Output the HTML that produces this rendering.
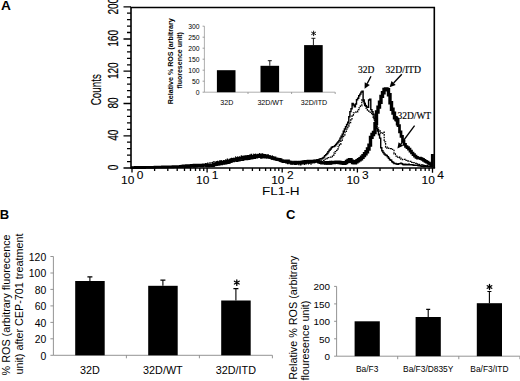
<!DOCTYPE html>
<html><head><meta charset="utf-8"><style>
html,body{margin:0;padding:0;background:#fff;}
svg{display:block;}
</style></head><body>
<svg width="520" height="381" viewBox="0 0 520 381">
<rect width="520" height="381" fill="#fff"/>
<path d="M205.0,163.7H206.4V163.2H207.8V163.3H209.2V162.9H210.6V162.9H212.0V162.6H213.4V161.8H214.8V161.6H216.2V162.2H217.6V161.3H219.0V161.0H220.4V161.5H221.8V160.7H223.2V160.7H224.6V160.1H226.0V159.9H227.4V159.1H228.8V159.3H230.2V159.2H231.6V158.5H233.0V158.4H234.4V157.9H235.8V157.0H237.2V157.5H238.6V157.0H240.0V156.5H241.4V156.0H242.8V156.5H244.2V155.9H245.6V155.8H247.0V155.7H248.4V155.3H249.8V155.2H251.2V154.4H252.6V154.6H254.0V154.1H255.4V154.5H256.8V154.3H258.2V153.6H259.6V153.8H261.0V154.0H262.4V154.9H263.8V154.5H265.2V154.9H266.6V154.9H268.0V155.5H269.4V155.7H270.8V155.9H272.2V156.8H273.6V157.5H275.0V158.6H276.4V159.1H277.8V160.1H279.2V160.8H280.6V161.4H282.0V161.5H283.4V161.4H284.8V162.6H286.2V163.1H287.6V163.5H289.0V163.6H290.4V163.9H291.8V163.5H293.2V164.2H294.6V164.1H296.0V163.9H297.4V163.8H298.8V164.7H300.2V164.8H301.6V163.8H303.0V164.4H304.4V163.9H305.8V163.5H307.2V163.6H308.6V163.9H310.0V163.8H311.4V162.5H312.8V162.7H314.2V161.7H315.6V162.0H317.0V161.2H318.4V161.3H319.8V161.0H321.2V160.1H322.6V160.3H324.0V159.2H325.4V158.5H326.8V158.7H328.2V157.6H329.6V157.1H331.0V156.5H332.4V155.3H333.8V153.2H335.2V151.6H336.6V150.3H338.0V146.8H339.4V144.3H340.8V141.3H342.2V137.8H343.6V134.9H345.0V132.1H346.4V129.1H347.8V125.8H349.2V123.4H350.6V120.0H352.0V116.0H353.4V112.8H354.8V112.2H356.2V112.0H357.6V109.7H359.0V107.8H360.4V105.8H361.8V99.9H363.2V102.3H364.6V105.4H366.0V108.2H367.4V110.2H368.8V111.4H370.2V113.3H371.6V114.7H373.0V117.0H374.4V120.4H375.8V123.1H377.2V128.1H378.6V130.6H380.0V133.0H381.4V133.4H382.8V132.2H384.2V141.9H385.6V147.0H387.0V148.4H388.4V148.1H389.8V148.7H391.2V149.4H392.6V150.3H394.0V153.9H395.4V156.1H396.8V157.2H398.2V156.9H399.6V158.1H401.0V159.3H402.4V159.7H403.8V159.3H405.2V160.3H406.6V161.0H408.0V161.0H409.4V161.4H410.8V162.4H412.2V162.3H413.6V162.7H415.0V163.4H416.4V164.2H417.8V164.0H419.2V164.5H420.6V164.7H422.0V165.4H423.4V165.2H424.8V165.8H426.2V165.3H427.6V165.6H429.0V166.1H430.4V166.5H431.8V166.3H433.2V166.2H434.0" fill="none" stroke="#000" stroke-width="1.3" stroke-dasharray="1.6,1.0"/>
<path d="M131.0,167.6H132.1V167.6H133.2V167.5H134.3V167.5H135.4V167.5H136.5V167.5H137.6V167.5H138.7V167.4H139.8V167.4H140.9V167.4H142.0V167.4H143.1V167.3H144.2V167.3H145.3V167.3H146.4V167.3H147.5V167.3H148.6V167.2H149.7V167.2H150.8V167.2H151.9V167.2H153.0V167.1H154.1V167.1H155.2V167.1H156.3V167.1H157.4V167.1H158.5V167.0H159.6V167.0H160.7V167.0H161.8V167.0H162.9V166.9H164.0V166.9H165.1V166.9H166.2V166.9H167.3V166.9H168.4V166.8H169.5V166.8H170.6V166.8H171.7V166.8H172.8V166.7H173.9V166.7H175.0V166.7H176.1V166.7H177.2V166.7H178.3V166.6H179.4V166.6H180.5V166.6H181.6V166.6H182.7V166.5H183.8V166.5H184.9V166.6H186.0V166.7H187.1V166.7H188.2V166.9H189.3V166.6H190.4V166.8H191.5V165.9H192.6V166.3H193.7V166.8H194.8V166.4H195.9V166.7H197.0V165.9H198.1V166.2H199.2V166.0H200.3V166.2H201.4V166.1H202.5V165.5H203.6V165.6H204.7V165.6H205.8V166.2H206.9V166.0H208.0V165.3H209.1V165.9H210.2V165.1H211.3V165.5H212.4V165.0H213.5V164.8H214.6V165.5H215.7V164.7H216.8V164.5H217.9V165.1H219.0V164.8H220.1V164.0H221.2V164.5H222.3V163.9H223.4V163.9H224.5V163.2H225.6V163.7H226.7V163.2H227.8V163.3H228.9V163.0H230.0V162.2H231.1V162.0H232.2V161.6H233.3V161.4H234.4V161.1H235.5V161.1H236.6V161.2H237.7V160.4H238.8V160.8H239.9V160.3H241.0V160.0H242.1V160.3H243.2V159.8H244.3V159.4H245.4V159.4H246.5V159.4H247.6V158.5H248.7V159.2H249.8V158.1H250.9V158.7H252.0V158.6H253.1V157.7H254.2V158.3H255.3V157.7H256.4V157.8H257.5V157.1H258.6V157.1H259.7V157.2H260.8V157.9H261.9V157.1H263.0V157.6H264.1V157.8H265.2V157.7H266.3V157.1H267.4V157.1H268.5V157.5H269.6V158.1H270.7V157.8H271.8V158.8H272.9V159.1H274.0V159.5H275.1V159.0H276.2V160.3H277.3V159.8H278.4V160.4H279.5V161.0H280.6V161.6H281.7V161.4H282.8V162.3H283.9V162.3H285.0V162.3H286.1V162.4H287.2V162.5H288.3V162.5H289.4V162.7H290.5V163.4H291.6V163.9H292.7V163.2H293.8V163.3H294.9V164.3H296.0V163.7H297.1V163.5H298.2V163.2H299.3V163.5H300.4V163.7H301.5V163.2H302.6V163.1H303.7V162.6H304.8V163.4H305.9V162.3H307.0V162.6H308.1V162.8H309.2V162.0H310.3V162.4H311.4V162.5H312.5V161.8H313.6V161.6H314.7V160.5H315.8V160.5H316.9V159.8H318.0V160.1H319.1V159.1H320.2V158.7H321.3V158.7H322.4V157.9H323.5V157.1H324.6V155.6H325.7V154.6H326.8V153.5H327.9V151.8H329.0V150.2H330.1V149.0H331.2V147.5H332.3V146.7H333.4V146.6H334.5V145.8H335.6V144.4H336.7V143.1H337.8V141.9H338.9V140.5H340.0V138.1H341.1V136.2H342.2V134.1H343.3V131.2H344.4V129.0H345.5V126.8H346.6V124.5H347.7V122.2H348.8V116.8H349.9V111.6H351.0V108.7H352.1V103.4H353.2V104.9H354.3V106.8H355.4V104.0H356.5V99.8H357.6V98.3H358.7V95.8H359.8V94.1H360.9V92.1H362.0V91.3H363.1V99.9H364.2V103.5H365.3V105.7H366.4V106.9H367.5V107.3H368.6V100.0H369.7V99.3H370.8V109.6H371.9V111.7H373.0V114.3H374.1V118.7H375.2V125.9H376.3V128.3H377.4V131.1H378.5V134.7H379.6V138.1H380.7V147.8H381.8V150.7H382.9V152.5H384.0V154.0H385.1V155.0H386.2V155.5H387.3V156.7H388.4V158.3H389.5V159.8H390.6V160.3H391.7V161.8H392.8V162.5H393.9V163.4H395.0V163.5H396.1V164.0H397.2V164.2H398.3V163.8H399.4V163.6H400.5V163.1H401.6V163.8H402.7V164.5H403.8V164.8H404.9V164.3H406.0V164.8H407.1V164.7H408.2V164.2H409.3V164.8H410.4V164.7H411.5V164.6H412.6V164.9H413.7V165.2H414.8V165.2H415.9V165.3H417.0V165.3H418.1V165.8H419.2V165.8H420.3V166.1H421.4V166.2H422.5V165.9H423.6V166.6H424.7V165.8H425.8V166.3H426.9V166.2H428.0V166.5H429.1V166.6H430.2V166.7H431.3V166.8H432.4V166.9H433.5V167.0H434.0" fill="none" stroke="#000" stroke-width="1.45" stroke-linejoin="miter"/>
<path d="M131.0,167.6H132.5V167.6H134.0V167.6H135.5V167.5H137.0V167.5H138.5V167.5H140.0V167.5H141.5V167.5H143.0V167.5H144.5V167.4H146.0V167.4H147.5V167.4H149.0V167.4H150.5V167.4H152.0V167.3H153.5V167.3H155.0V167.2H156.5V167.2H158.0V167.2H159.5V167.1H161.0V167.1H162.5V167.0H164.0V167.0H165.5V166.9H167.0V166.9H168.5V166.8H170.0V166.8H171.5V166.8H173.0V166.7H174.5V166.7H176.0V166.6H177.5V166.6H179.0V166.6H180.5V166.5H182.0V166.2H183.5V165.9H185.0V166.6H186.5V165.7H188.0V166.3H189.5V165.9H191.0V165.4H192.5V166.0H194.0V165.2H195.5V165.7H197.0V165.1H198.5V165.1H200.0V165.5H201.5V165.9H203.0V164.9H204.5V165.0H206.0V165.4H207.5V165.8H209.0V165.2H210.5V164.9H212.0V165.5H213.5V163.8H215.0V164.6H216.5V163.5H218.0V162.9H219.5V162.6H221.0V162.5H222.5V162.8H224.0V161.6H225.5V161.8H227.0V161.5H228.5V160.8H230.0V160.7H231.5V159.6H233.0V159.3H234.5V159.2H236.0V159.5H237.5V158.8H239.0V158.3H240.5V158.3H242.0V157.7H243.5V157.2H245.0V157.5H246.5V157.1H248.0V156.3H249.5V156.6H251.0V156.4H252.5V156.7H254.0V156.3H255.5V155.6H257.0V156.6H258.5V155.3H260.0V155.6H261.5V156.1H263.0V155.5H264.5V156.2H266.0V155.8H267.5V157.0H269.0V157.3H270.5V157.4H272.0V158.3H273.5V157.9H275.0V158.8H276.5V159.1H278.0V159.4H279.5V159.7H281.0V160.6H282.5V161.2H284.0V160.9H285.5V161.4H287.0V160.8H288.5V161.9H290.0V162.1H291.5V162.8H293.0V162.8H294.5V162.2H296.0V162.4H297.5V162.9H299.0V162.1H300.5V162.5H302.0V161.9H303.5V161.6H305.0V161.3H306.5V162.2H308.0V161.1H309.5V161.1H311.0V161.3H312.5V161.9H314.0V160.8H315.5V161.3H317.0V161.4H318.5V162.2H320.0V162.5H321.5V163.0H323.0V162.6H324.5V162.8H326.0V162.7H327.5V163.3H329.0V163.4H330.5V162.1H332.0" fill="none" stroke="#000" stroke-width="2.8" stroke-linejoin="miter"/>
<path d="M324.0,163.0H325.5V162.9H327.0V162.8H328.5V162.7H330.0V162.7H331.5V162.6H333.0V162.5H334.5V162.4H336.0V162.3H337.5V162.2H339.0V162.5H340.5V162.7H342.0V163.0H343.5V163.2H345.0V162.6H346.5V161.5H348.0V160.5H349.5V159.8H351.0V161.2H352.5V162.6H354.0V162.7H355.5V161.7H357.0V160.7H358.5V159.7H360.0V158.7H361.5V157.3H363.0V155.6H364.5V153.8H366.0V151.8H367.5V149.0H369.0V145.1H370.5V137.4H372.0V134.5H373.5V132.5H375.0V123.6H376.5V112.0H378.0V107.1H379.5V102.3H381.0V96.4H382.5V92.7H384.0V89.4H385.5V88.9H387.0V89.7H388.5V94.7H390.0V102.8H391.5V109.3H393.0V113.1H394.5V117.8H396.0V119.5H397.5V123.7H398.5" fill="none" stroke="#000" stroke-width="3.4" stroke-linejoin="miter"/>
<path d="M395.0,118.4H396.5V120.2H398.0V125.7H399.5V131.8H401.0V136.4H402.5V141.0H404.0V144.4H405.5V146.5H407.0V147.6H408.5V149.2H410.0V151.1H411.5V153.0H413.0V154.7H414.5V156.2H416.0V157.4H417.5V158.1H419.0V158.1H420.5V158.6H422.0V159.3H423.5V160.4H425.0V161.4H426.5V162.2H428.0V163.1H429.5V164.0H431.0V164.6H432.4" fill="none" stroke="#000" stroke-width="2.7" stroke-linejoin="miter"/>
<path d="M432.4,166V154" fill="none" stroke="#000" stroke-width="3.0"/>
<path d="M131.0,168.0 L131.0,7.5 L434.3,7.5 L434.3,168.0" fill="none" stroke="#000" stroke-width="1.6"/>
<line x1="130.2" y1="168.0" x2="435.1" y2="168.0" stroke="#000" stroke-width="1.7"/>
<path d="M123.5,168.0H131.0 M127.0,161.6H131.0 M127.0,155.1H131.0 M127.0,148.7H131.0 M127.0,142.2H131.0 M123.5,135.8H131.0 M127.0,129.3H131.0 M127.0,122.8H131.0 M127.0,116.4H131.0 M127.0,109.9H131.0 M123.5,103.5H131.0 M127.0,97.0H131.0 M127.0,90.6H131.0 M127.0,84.1H131.0 M127.0,77.7H131.0 M123.5,71.2H131.0 M127.0,64.8H131.0 M127.0,58.3H131.0 M127.0,51.9H131.0 M127.0,45.5H131.0 M123.5,39.0H131.0 M127.0,32.5H131.0 M127.0,26.1H131.0 M127.0,19.7H131.0 M127.0,13.2H131.0 M123.5,6.8H131.0" stroke="#000" stroke-width="1.3"/>
<text transform="translate(118.3,167.4) rotate(-90) scale(0.66,1)" font-family="Liberation Sans, sans-serif" font-size="15.3" text-anchor="middle" stroke="#000" stroke-width="0.2">0</text>
<text transform="translate(118.3,135.2) rotate(-90) scale(0.66,1)" font-family="Liberation Sans, sans-serif" font-size="15.3" text-anchor="middle" stroke="#000" stroke-width="0.2">40</text>
<text transform="translate(118.3,102.9) rotate(-90) scale(0.66,1)" font-family="Liberation Sans, sans-serif" font-size="15.3" text-anchor="middle" stroke="#000" stroke-width="0.2">80</text>
<text transform="translate(118.3,70.7) rotate(-90) scale(0.66,1)" font-family="Liberation Sans, sans-serif" font-size="15.3" text-anchor="middle" stroke="#000" stroke-width="0.2">120</text>
<text transform="translate(118.3,38.4) rotate(-90) scale(0.66,1)" font-family="Liberation Sans, sans-serif" font-size="15.3" text-anchor="middle" stroke="#000" stroke-width="0.2">160</text>
<text transform="translate(118.3,6.2) rotate(-90) scale(0.66,1)" font-family="Liberation Sans, sans-serif" font-size="15.3" text-anchor="middle" stroke="#000" stroke-width="0.2">200</text>
<text transform="translate(101.4,89.7) rotate(-90) scale(0.70,1)" font-family="Liberation Sans, sans-serif" font-size="14" text-anchor="middle" stroke="#000" stroke-width="0.15">Counts</text>
<path d="M132.0,168.0V172.6 M154.6,168.0V170.9 M167.8,168.0V170.9 M177.2,168.0V170.9 M184.5,168.0V170.9 M190.5,168.0V170.9 M195.5,168.0V170.9 M199.8,168.0V170.9 M203.7,168.0V170.9 M207.1,168.0V172.6 M229.7,168.0V170.9 M243.0,168.0V170.9 M252.4,168.0V170.9 M259.6,168.0V170.9 M265.6,168.0V170.9 M270.6,168.0V170.9 M275.0,168.0V170.9 M278.8,168.0V170.9 M282.2,168.0V172.6 M304.9,168.0V170.9 M318.1,168.0V170.9 M327.5,168.0V170.9 M334.8,168.0V170.9 M340.7,168.0V170.9 M345.7,168.0V170.9 M350.1,168.0V170.9 M353.9,168.0V170.9 M357.4,168.0V172.6 M380.0,168.0V170.9 M393.2,168.0V170.9 M402.6,168.0V170.9 M409.9,168.0V170.9 M415.8,168.0V170.9 M420.9,168.0V170.9 M425.2,168.0V170.9 M429.1,168.0V170.9 M432.5,168.0V172.8" stroke="#000" stroke-width="1.3"/>
<text transform="translate(121.0,184.3) scale(1.1,1)" font-family="Liberation Sans, sans-serif" font-size="10.9" stroke="#000" stroke-width="0.08">10</text>
<text transform="translate(136.7,178.8) scale(1.15,1)" font-family="Liberation Sans, sans-serif" font-size="10.4" stroke="#000" stroke-width="0.08">0</text>
<text transform="translate(196.1,184.3) scale(1.1,1)" font-family="Liberation Sans, sans-serif" font-size="10.9" stroke="#000" stroke-width="0.08">10</text>
<text transform="translate(211.8,178.8) scale(1.15,1)" font-family="Liberation Sans, sans-serif" font-size="10.4" stroke="#000" stroke-width="0.08">1</text>
<text transform="translate(271.2,184.3) scale(1.1,1)" font-family="Liberation Sans, sans-serif" font-size="10.9" stroke="#000" stroke-width="0.08">10</text>
<text transform="translate(286.9,178.8) scale(1.15,1)" font-family="Liberation Sans, sans-serif" font-size="10.4" stroke="#000" stroke-width="0.08">2</text>
<text transform="translate(346.4,184.3) scale(1.1,1)" font-family="Liberation Sans, sans-serif" font-size="10.9" stroke="#000" stroke-width="0.08">10</text>
<text transform="translate(362.1,178.8) scale(1.15,1)" font-family="Liberation Sans, sans-serif" font-size="10.4" stroke="#000" stroke-width="0.08">3</text>
<text transform="translate(421.5,184.3) scale(1.1,1)" font-family="Liberation Sans, sans-serif" font-size="10.9" stroke="#000" stroke-width="0.08">10</text>
<text transform="translate(437.2,178.8) scale(1.15,1)" font-family="Liberation Sans, sans-serif" font-size="10.4" stroke="#000" stroke-width="0.08">4</text>
<text transform="translate(280.8,194.5) scale(1.32,1)" font-family="Liberation Sans, sans-serif" font-size="10.3" text-anchor="middle">FL1-H</text>
<rect x="165" y="14" width="176" height="94" fill="#fff"/>
<line x1="204.4" y1="26.2" x2="204.4" y2="92.2" stroke="#999" stroke-width="0.8"/>
<line x1="204.4" y1="92.2" x2="335.2" y2="92.2" stroke="#999" stroke-width="0.8"/>
<line x1="202.6" y1="92.2" x2="204.4" y2="92.2" stroke="#888" stroke-width="0.8"/>
<text x="199.6" y="94.8" font-family="Liberation Sans, sans-serif" font-size="6.8" text-anchor="end">0</text>
<line x1="202.6" y1="81.2" x2="204.4" y2="81.2" stroke="#888" stroke-width="0.8"/>
<text x="199.6" y="83.8" font-family="Liberation Sans, sans-serif" font-size="6.8" text-anchor="end">50</text>
<line x1="202.6" y1="70.2" x2="204.4" y2="70.2" stroke="#888" stroke-width="0.8"/>
<text x="199.6" y="72.8" font-family="Liberation Sans, sans-serif" font-size="6.8" text-anchor="end">100</text>
<line x1="202.6" y1="59.2" x2="204.4" y2="59.2" stroke="#888" stroke-width="0.8"/>
<text x="199.6" y="61.8" font-family="Liberation Sans, sans-serif" font-size="6.8" text-anchor="end">150</text>
<line x1="202.6" y1="48.2" x2="204.4" y2="48.2" stroke="#888" stroke-width="0.8"/>
<text x="199.6" y="50.8" font-family="Liberation Sans, sans-serif" font-size="6.8" text-anchor="end">200</text>
<line x1="202.6" y1="37.2" x2="204.4" y2="37.2" stroke="#888" stroke-width="0.8"/>
<text x="199.6" y="39.8" font-family="Liberation Sans, sans-serif" font-size="6.8" text-anchor="end">250</text>
<line x1="202.6" y1="26.2" x2="204.4" y2="26.2" stroke="#888" stroke-width="0.8"/>
<text x="199.6" y="28.8" font-family="Liberation Sans, sans-serif" font-size="6.8" text-anchor="end">300</text>
<line x1="248.0" y1="92.2" x2="248.0" y2="94.0" stroke="#888" stroke-width="0.8"/>
<line x1="291.6" y1="92.2" x2="291.6" y2="94.0" stroke="#888" stroke-width="0.8"/>
<line x1="335.2" y1="92.2" x2="335.2" y2="94.0" stroke="#888" stroke-width="0.8"/>
<rect x="216.9" y="70.2" width="18.6" height="22.0" fill="#000"/>
<text x="226.8" y="104.6" font-family="Liberation Sans, sans-serif" font-size="7.1" text-anchor="middle">32D</text>
<rect x="260.5" y="65.8" width="18.6" height="26.4" fill="#000"/>
<path d="M269.8,65.8V60.7M267.8,60.7H271.8" stroke="#000" stroke-width="0.9"/>
<text x="270.4" y="104.6" font-family="Liberation Sans, sans-serif" font-size="7.1" text-anchor="middle">32D/WT</text>
<rect x="304.1" y="45.1" width="18.6" height="47.1" fill="#000"/>
<path d="M313.4,45.1V38.3M311.4,38.3H315.4" stroke="#000" stroke-width="0.9"/>
<text x="314.0" y="104.6" font-family="Liberation Sans, sans-serif" font-size="7.1" text-anchor="middle">32D/ITD</text>
<path d="M313.60,31.10L313.60,35.70M311.61,32.25L315.59,34.55M315.59,32.25L311.61,34.55" stroke="#000" stroke-width="0.9" stroke-linecap="round" fill="none"/>
<text transform="translate(173.1,104.3) rotate(-90)" font-family="Liberation Sans, sans-serif" font-size="7.1" font-weight="bold">Relative % ROS (arbitrary</text>
<text transform="translate(181.5,88.6) rotate(-90)" font-family="Liberation Sans, sans-serif" font-size="7.0" font-weight="bold">fluoresence unit)</text>
<text x="358" y="72.7" font-family="Liberation Serif, serif" font-size="9.5" stroke="#000" stroke-width="0.15">32D</text>
<text x="385.5" y="72.7" font-family="Liberation Serif, serif" font-size="9.7" stroke="#000" stroke-width="0.15">32D/ITD</text>
<text x="397.4" y="118.8" font-family="Liberation Serif, serif" font-size="9.5" stroke="#000" stroke-width="0.15">32D/WT</text>
<line x1="371" y1="76.3" x2="367.2" y2="83.6" stroke="#000" stroke-width="1.3"/>
<polygon points="364.6,88.8 364.7,82.3 369.8,85.0" fill="#000"/>
<line x1="401.8" y1="74.3" x2="393.6" y2="83.0" stroke="#000" stroke-width="1.3"/>
<polygon points="389.6,87.2 391.5,81.0 395.7,85.0" fill="#000"/>
<line x1="414.6" y1="125.6" x2="400.9" y2="144.0" stroke="#000" stroke-width="1.3"/>
<polygon points="397.4,148.6 398.6,142.2 403.2,145.7" fill="#000"/>
<text x="0.9" y="10.3" font-family="Liberation Sans, sans-serif" font-size="13.7" font-weight="bold">A</text>
<line x1="53.4" y1="256.5" x2="53.4" y2="355.3" stroke="#888" stroke-width="0.9"/>
<line x1="53.4" y1="355.3" x2="272.4" y2="355.3" stroke="#888" stroke-width="0.9"/>
<line x1="50.4" y1="355.3" x2="53.4" y2="355.3" stroke="#888" stroke-width="0.9"/>
<text x="46.2" y="359.5" font-family="Liberation Sans, sans-serif" font-size="10.4" text-anchor="end">0</text>
<line x1="50.4" y1="338.8" x2="53.4" y2="338.8" stroke="#888" stroke-width="0.9"/>
<text x="46.2" y="343.0" font-family="Liberation Sans, sans-serif" font-size="10.4" text-anchor="end">20</text>
<line x1="50.4" y1="322.4" x2="53.4" y2="322.4" stroke="#888" stroke-width="0.9"/>
<text x="46.2" y="326.6" font-family="Liberation Sans, sans-serif" font-size="10.4" text-anchor="end">40</text>
<line x1="50.4" y1="305.9" x2="53.4" y2="305.9" stroke="#888" stroke-width="0.9"/>
<text x="46.2" y="310.1" font-family="Liberation Sans, sans-serif" font-size="10.4" text-anchor="end">60</text>
<line x1="50.4" y1="289.4" x2="53.4" y2="289.4" stroke="#888" stroke-width="0.9"/>
<text x="46.2" y="293.6" font-family="Liberation Sans, sans-serif" font-size="10.4" text-anchor="end">80</text>
<line x1="50.4" y1="273.0" x2="53.4" y2="273.0" stroke="#888" stroke-width="0.9"/>
<text x="46.2" y="277.2" font-family="Liberation Sans, sans-serif" font-size="10.4" text-anchor="end">100</text>
<line x1="50.4" y1="256.5" x2="53.4" y2="256.5" stroke="#888" stroke-width="0.9"/>
<text x="46.2" y="260.7" font-family="Liberation Sans, sans-serif" font-size="10.4" text-anchor="end">120</text>
<line x1="126.4" y1="355.3" x2="126.4" y2="358.3" stroke="#888" stroke-width="0.9"/>
<line x1="199.4" y1="355.3" x2="199.4" y2="358.3" stroke="#888" stroke-width="0.9"/>
<line x1="272.4" y1="355.3" x2="272.4" y2="358.3" stroke="#888" stroke-width="0.9"/>
<rect x="75.2" y="281.0" width="29.5" height="74.3" fill="#000"/>
<path d="M89.9,281.0V276.9M87.4,276.9H92.4" stroke="#000" stroke-width="1.1"/>
<text x="89.9" y="374.4" font-family="Liberation Sans, sans-serif" font-size="10.8" text-anchor="middle">32D</text>
<rect x="148.2" y="285.8" width="29.5" height="69.5" fill="#000"/>
<path d="M162.9,285.8V280.1M160.4,280.1H165.4" stroke="#000" stroke-width="1.1"/>
<text x="162.9" y="374.4" font-family="Liberation Sans, sans-serif" font-size="10.8" text-anchor="middle">32D/WT</text>
<rect x="221.2" y="300.5" width="29.5" height="54.8" fill="#000"/>
<path d="M235.9,300.5V288.6M233.4,288.6H238.4" stroke="#000" stroke-width="1.1"/>
<text x="235.9" y="374.4" font-family="Liberation Sans, sans-serif" font-size="10.8" text-anchor="middle">32D/ITD</text>
<path d="M236.80,279.80L236.80,285.40M234.38,281.20L239.22,284.00M239.22,281.20L234.38,284.00" stroke="#000" stroke-width="1.3" stroke-linecap="round" fill="none"/>
<text transform="translate(10.1,375.4) rotate(-90)" font-family="Liberation Sans, sans-serif" font-size="10.8">% ROS (arbitrary fluorecence</text>
<text transform="translate(23,374.6) rotate(-90)" font-family="Liberation Sans, sans-serif" font-size="10.8">unit) after CEP-701 treatment</text>
<text x="-0.3" y="218.7" font-family="Liberation Sans, sans-serif" font-size="13" font-weight="bold">B</text>
<line x1="336.6" y1="286.4" x2="336.6" y2="356.2" stroke="#888" stroke-width="0.9"/>
<line x1="336.6" y1="356.2" x2="519.9" y2="356.2" stroke="#888" stroke-width="0.9"/>
<line x1="334.1" y1="356.2" x2="336.6" y2="356.2" stroke="#888" stroke-width="0.9"/>
<text x="330.0" y="360.2" font-family="Liberation Sans, sans-serif" font-size="9.9" text-anchor="end">0</text>
<line x1="334.1" y1="338.8" x2="336.6" y2="338.8" stroke="#888" stroke-width="0.9"/>
<text x="330.0" y="342.8" font-family="Liberation Sans, sans-serif" font-size="9.9" text-anchor="end">50</text>
<line x1="334.1" y1="321.3" x2="336.6" y2="321.3" stroke="#888" stroke-width="0.9"/>
<text x="330.0" y="325.3" font-family="Liberation Sans, sans-serif" font-size="9.9" text-anchor="end">100</text>
<line x1="334.1" y1="303.9" x2="336.6" y2="303.9" stroke="#888" stroke-width="0.9"/>
<text x="330.0" y="307.9" font-family="Liberation Sans, sans-serif" font-size="9.9" text-anchor="end">150</text>
<line x1="334.1" y1="286.4" x2="336.6" y2="286.4" stroke="#888" stroke-width="0.9"/>
<text x="330.0" y="290.4" font-family="Liberation Sans, sans-serif" font-size="9.9" text-anchor="end">200</text>
<line x1="397.7" y1="356.2" x2="397.7" y2="359.2" stroke="#888" stroke-width="0.9"/>
<line x1="458.8" y1="356.2" x2="458.8" y2="359.2" stroke="#888" stroke-width="0.9"/>
<line x1="519.9" y1="356.2" x2="519.9" y2="359.2" stroke="#888" stroke-width="0.9"/>
<rect x="354.6" y="321.3" width="25.2" height="34.9" fill="#000"/>
<text x="367.2" y="371.6" font-family="Liberation Sans, sans-serif" font-size="8.4" text-anchor="middle">Ba/F3</text>
<rect x="415.6" y="317.0" width="25.2" height="39.2" fill="#000"/>
<path d="M428.2,317.0V309.4M426.2,309.4H430.2" stroke="#000" stroke-width="1.1"/>
<text x="428.2" y="371.6" font-family="Liberation Sans, sans-serif" font-size="8.4" text-anchor="middle">Ba/F3/D835Y</text>
<rect x="476.8" y="303.2" width="25.2" height="53.0" fill="#000"/>
<path d="M489.4,303.2V291.5M487.4,291.5H491.4" stroke="#000" stroke-width="1.1"/>
<text x="489.4" y="371.6" font-family="Liberation Sans, sans-serif" font-size="8.4" text-anchor="middle">Ba/F3/ITD</text>
<path d="M489.50,284.40L489.50,289.60M487.25,285.70L491.75,288.30M491.75,285.70L487.25,288.30" stroke="#000" stroke-width="1.3" stroke-linecap="round" fill="none"/>
<text transform="translate(297.2,379.8) rotate(-90)" font-family="Liberation Sans, sans-serif" font-size="10.8">Relative % ROS (arbitrary</text>
<text transform="translate(309.4,380.4) rotate(-90)" font-family="Liberation Sans, sans-serif" font-size="10.8">flouresence unit)</text>
<text x="285.9" y="218.7" font-family="Liberation Sans, sans-serif" font-size="13" font-weight="bold">C</text>
</svg>
</body></html>
